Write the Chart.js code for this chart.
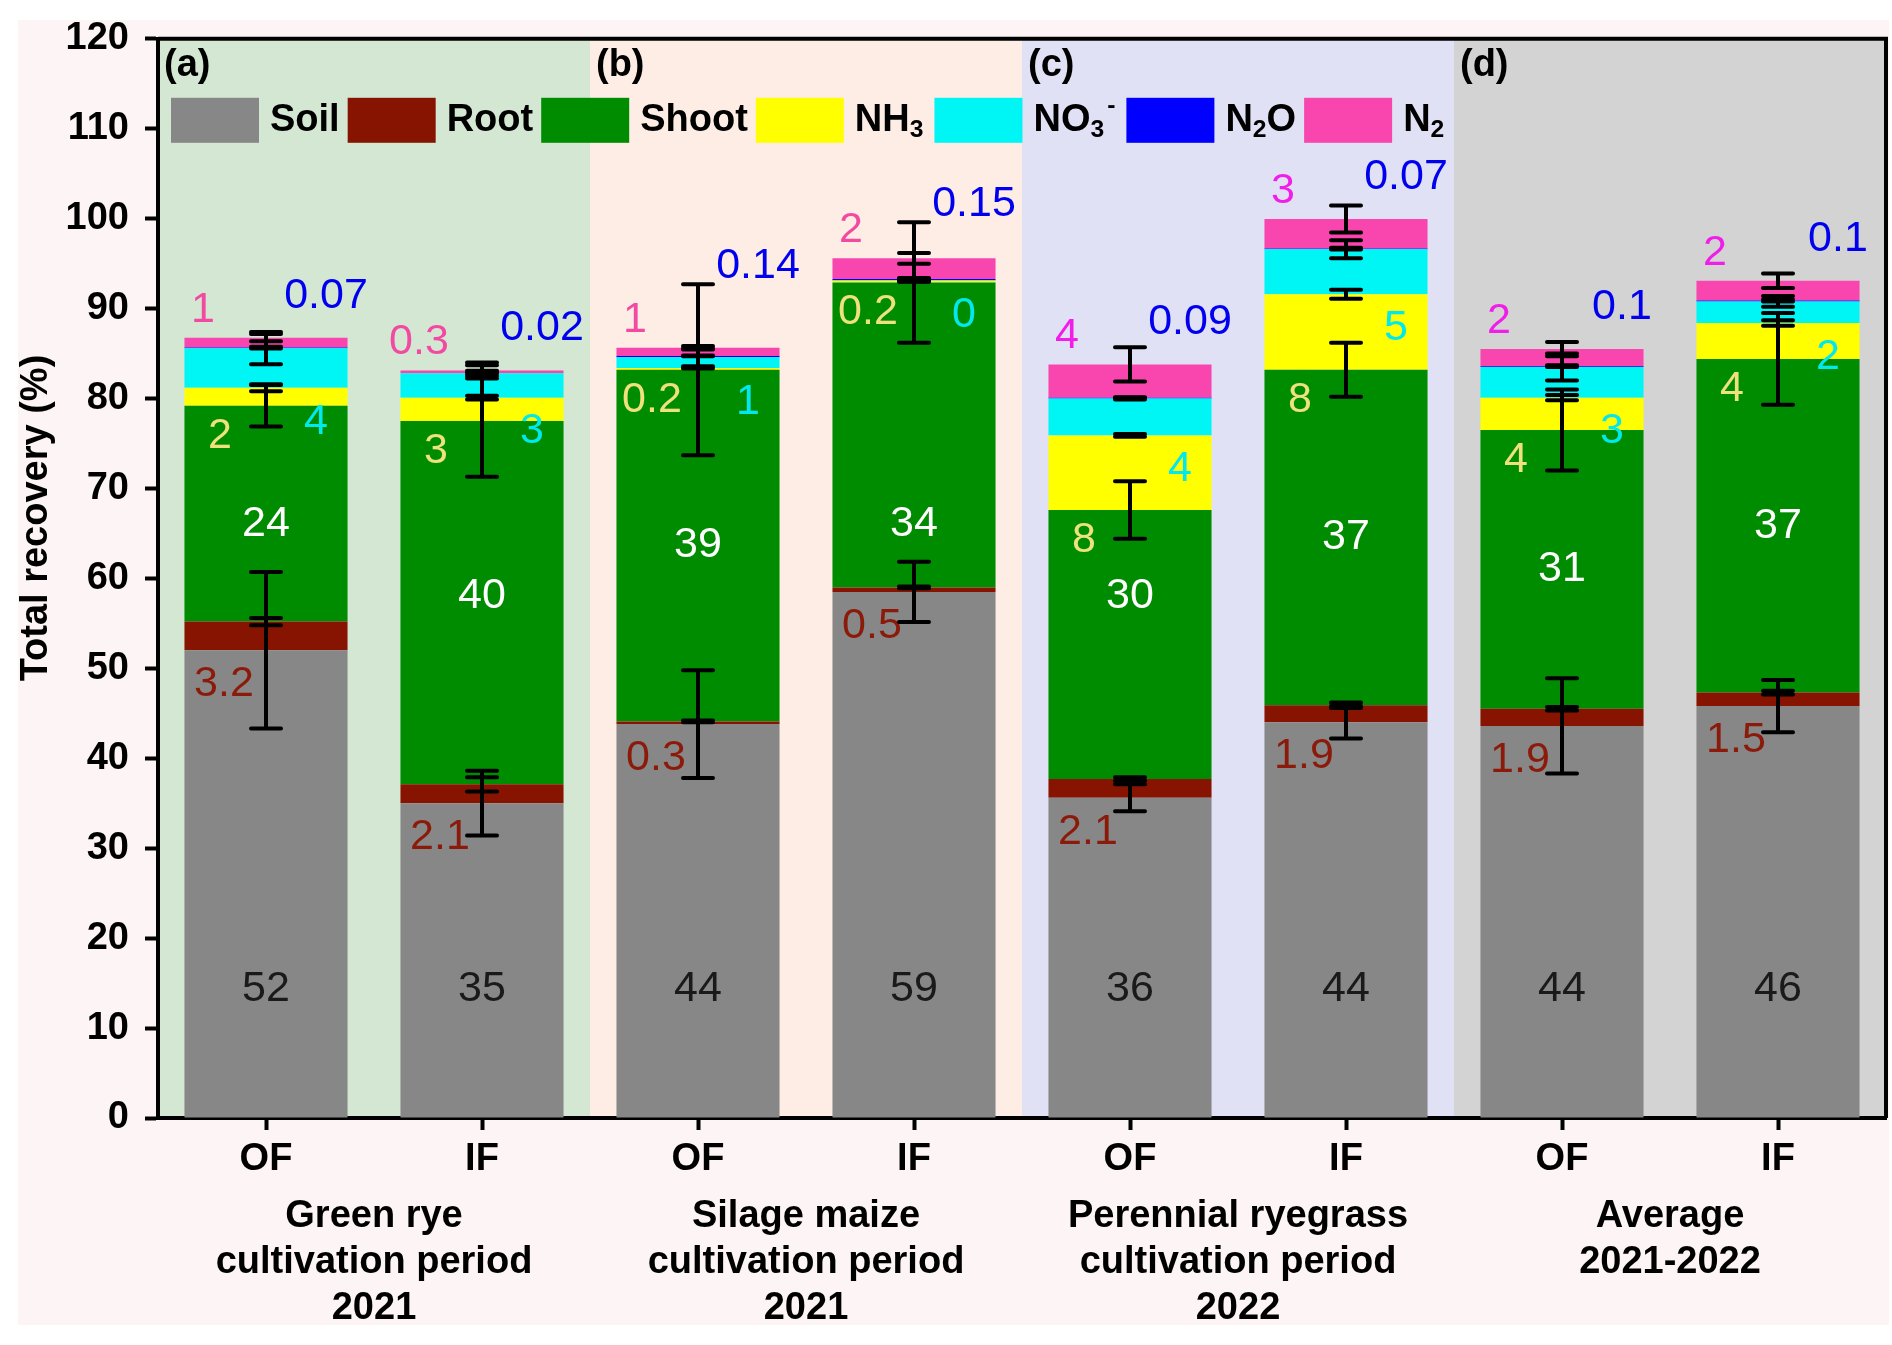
<!DOCTYPE html>
<html>
<head>
<meta charset="utf-8">
<script src="https://cdn.jsdelivr.net/npm/chart.js@4.4.0/dist/chart.umd.min.js"></script>
<style>
  html, body { margin: 0; padding: 0; background: #fff; }
  #wrap { width: 1892px; height: 1345px; }
</style>
</head>
<body>
<div id="wrap"><canvas id="chart" width="1892" height="1345"></canvas></div>
<script>
// Categories and group captions
const categories = ['OF', 'IF', 'OF', 'IF', 'OF', 'IF', 'OF', 'IF'];
const groupCaptions = [
  ['Green rye', 'cultivation period', '2021'],
  ['Silage maize', 'cultivation period', '2021'],
  ['Perennial ryegrass', 'cultivation period', '2022'],
  ['Average', '2021-2022']
];
const panelTags = ['(a)', '(b)', '(c)', '(d)'];
const yTitle = 'Total recovery (%)';

// Recovery (%) per N pool, stacked bottom -> top
const soil  = [52.0, 35.0, 43.8, 58.5, 35.6, 44.0, 43.6, 45.8];
const root  = [3.2, 2.1, 0.3, 0.5, 2.1, 1.9, 1.9, 1.5];
const shoot = [24.0, 40.4, 39.1, 33.9, 29.9, 37.3, 31.0, 37.1];
const nh3   = [2.0, 2.6, 0.2, 0.2, 8.3, 8.4, 3.6, 4.0];
const no3   = [4.4, 2.7, 1.2, 0.04, 4.1, 5.0, 3.4, 2.4];
const n2o   = [0.07, 0.02, 0.14, 0.15, 0.09, 0.07, 0.1, 0.1];
const n2    = [1.1, 0.3, 0.9, 2.3, 3.7, 3.3, 1.9, 2.2];

// Error half-widths (drawn at the top of each stacked segment)
const soilErr  = [8.7, 3.6, 6.0, 3.35, 1.5, 1.8, 5.3, 2.9];
const rootErr  = [0.4, 0.8, 0.1, 0.1, 0.2, 0.3, 0.2, 0.2];
const shootErr = [2.3, 6.2, 9.5, 6.7, 3.2, 3.0, 4.5, 5.1];
const nh3Err   = [0.4, 0.2, 0.05, 0.1, 0.15, 0.5, 0.3, 0.3];
const no3Err   = [1.8, 0.3, 1.0, 0.15, 0.1, 1.0, 1.5, 0.6];
const n2oErr   = [0.1, 0.05, 0.05, 0.1, 0.05, 0.1, 0.1, 0.1];
const n2Err    = [0.4, 0.9, 0.2, 0.6, 1.9, 1.5, 0.8, 0.8];

const series = [soil, root, shoot, nh3, no3, n2o, n2];
const errors = [soilErr, rootErr, shootErr, nh3Err, no3Err, n2oErr, n2Err];
const names = ['Soil', 'Root', 'Shoot', 'NH₃', 'NO₃⁻', 'N₂O', 'N₂'];
const legendText = ['Soil', 'Root', 'Shoot', 'NH_3', 'NO_3^-', 'N_2O', 'N_2'];
const colors = ['#878787', '#861400', '#008c00', '#ffff00', '#00f5f5', '#0000ff', '#f846ae'];
const panelColors = ['#d3e7d3', '#fdede5', '#e1e1f6', '#d3d3d3'];

const FONT = "'Liberation Sans', Arial, sans-serif";

// value label formats
const fInt = v => String(Math.round(v));
const f1 = v => v.toFixed(1);
const fSmall = v => v < 0.5 ? v.toFixed(1) : String(Math.round(v));
const f2 = v => String(parseFloat(v.toFixed(2)));

function richText(ctx, str, x, y, size) {
  // '_' = subscript next char, '^' = superscript next char
  let cx = x;
  for (let i = 0; i < str.length; i++) {
    let ch = str[i], dy = 0, sz = size, extra = 0;
    if (ch === '_' || ch === '^') {
      dy = ch === '_' ? size * 0.25 : -size * 0.38;
      ch = str[++i];
      sz = size * 0.65;
      const next = str[i + 1];
      extra = (next === undefined || next === '^' || next === '_') ? 3 : 0;
    }
    ctx.font = `bold ${sz}px ${FONT}`;
    ctx.fillText(ch, cx, y + dy);
    cx += ctx.measureText(ch).width + extra;
  }
  return cx - x;
}

const deco = {
  id: 'deco',
  beforeDraw(chart) {
    const { ctx, chartArea: a, scales: { x } } = chart;
    ctx.save();
    ctx.fillStyle = '#ffffff';
    ctx.fillRect(0, 0, chart.width, chart.height);
    ctx.fillStyle = '#fdf5f5';
    ctx.fillRect(18, 20, 1871, 1305);
    const step = x.getPixelForValue(1) - x.getPixelForValue(0);
    panelColors.forEach((c, k) => {
      const l = x.getPixelForValue(2 * k) - step / 2;
      const r = x.getPixelForValue(2 * k + 1) + step / 2;
      ctx.fillStyle = c;
      ctx.fillRect(l, a.top, r - l, a.bottom - a.top);
    });
    ctx.restore();
  },
  afterDatasetsDraw(chart) {
    const { ctx, scales: { y } } = chart;
    const py = v => y.getPixelForValue(v);
    const meta = chart.getDatasetMeta(0);
    ctx.save();
    ctx.textAlign = 'center';
    ctx.textBaseline = 'middle';
    ctx.font = `43px ${FONT}`;
    categories.forEach((c, i) => {
      const cx = meta.data[i].x;
      const tops = [];
      let cum = 0;
      series.forEach(s => { cum += s[i]; tops.push(cum); });
      let errTop = 0;
      tops.forEach((t, d) => { errTop = Math.max(errTop, t + errors[d][i]); });
      const shootMid = Math.min(66, Math.max(58, (tops[1] + tops[2]) / 2));

      const put = (txt, col, px, pyy) => { ctx.fillStyle = col; ctx.fillText(txt, px, pyy); };
      put(fInt(soil[i]), '#1a1a1a', cx, py(14.3));
      put(f1(root[i]), '#8b1a0a', cx - 42, py(tops[0]) + 34);
      put(fInt(shoot[i]), '#ffffff', cx, py(shootMid));
      put(fSmall(nh3[i]), '#efe27c', cx - 46, py(tops[2]) + 30);
      put(fInt(no3[i]), '#00e8f0', cx + 50, py(tops[3]) + 34);
      put(f2(n2o[i]), '#0000ee', cx + 60, Math.min(py(tops[6]) - 42, py(errTop) - 18));
      put(fSmall(n2[i]), i < 4 ? '#f24aa2' : '#f01ee8', cx - 63, py(tops[6]) - 28);

      // error bars
      ctx.strokeStyle = '#000';
      ctx.lineWidth = 4;
      ctx.lineCap = 'round';
      tops.forEach((t, d) => {
        const e = errors[d][i];
        const y1 = py(t - e), y2 = py(t + e);
        ctx.beginPath();
        ctx.moveTo(cx, y1); ctx.lineTo(cx, y2);
        ctx.moveTo(cx - 15, y1); ctx.lineTo(cx + 15, y1);
        ctx.moveTo(cx - 15, y2); ctx.lineTo(cx + 15, y2);
        ctx.stroke();
      });
    });
    ctx.restore();
  },
  afterDraw(chart) {
    const { ctx, chartArea: a, scales: { x } } = chart;
    const step = x.getPixelForValue(1) - x.getPixelForValue(0);
    ctx.save();
    // frame top / right
    ctx.strokeStyle = '#000';
    ctx.lineWidth = 4;
    ctx.beginPath();
    ctx.moveTo(a.left, a.top); ctx.lineTo(a.right, a.top); ctx.lineTo(a.right, a.bottom);
    ctx.stroke();

    // legend inside plot
    ctx.textAlign = 'left';
    ctx.textBaseline = 'middle';
    let lx = a.left + 13;
    const by = a.top + 59;
    legendText.forEach((t, k) => {
      ctx.fillStyle = colors[k];
      ctx.fillRect(lx, by, 88, 45);
      lx += 88 + 11;
      ctx.fillStyle = '#000';
      lx += richText(ctx, t, lx, by + 23, 38) + 8;
    });

    // panel tags
    ctx.font = `bold 38px ${FONT}`;
    panelTags.forEach((t, k) => {
      ctx.fillText(t, x.getPixelForValue(2 * k) - step / 2 + 6, a.top + 27);
    });

    // group captions
    ctx.textAlign = 'center';
    groupCaptions.forEach((lines, k) => {
      const gx = (x.getPixelForValue(2 * k) + x.getPixelForValue(2 * k + 1)) / 2;
      lines.forEach((ln, j) => ctx.fillText(ln, gx, a.bottom + 99 + j * 46));
    });

    // y title
    ctx.translate(37, 518);
    ctx.rotate(-Math.PI / 2);
    ctx.fillText(yTitle, 0, 0);
    ctx.restore();
  }
};

new Chart(document.getElementById('chart'), {
  type: 'bar',
  data: {
    labels: categories,
    datasets: series.map((s, k) => ({
      label: names[k],
      data: s,
      backgroundColor: colors[k],
      borderWidth: 0,
      barPercentage: 0.755,
      categoryPercentage: 1
    }))
  },
  options: {
    responsive: false,
    devicePixelRatio: 1,
    animation: false,
    layout: { padding: { top: 35, right: 6, left: 0, bottom: 0 } },
    plugins: { legend: { display: false }, tooltip: { enabled: false } },
    scales: {
      x: {
        stacked: true,
        offset: true,
        grid: { offset: false, drawOnChartArea: false, drawTicks: true, tickLength: 12, tickWidth: 4, tickColor: '#000' },
        border: { display: true, width: 4, color: '#000' },
        ticks: { color: '#000', font: { family: FONT, size: 38, weight: 'bold' }, padding: 7 },
        afterFit(s) { s.height = 227; }
      },
      y: {
        stacked: true,
        min: 0,
        max: 120,
        grid: { drawOnChartArea: false, tickLength: 13, tickWidth: 4, tickColor: '#000' },
        border: { display: true, width: 4, color: '#000' },
        ticks: { stepSize: 10, color: '#000', font: { family: FONT, size: 38, weight: 'bold' }, padding: 16 },
        afterFit(s) { s.width = 158; }
      }
    }
  },
  plugins: [deco]
});
</script>
</body>
</html>
